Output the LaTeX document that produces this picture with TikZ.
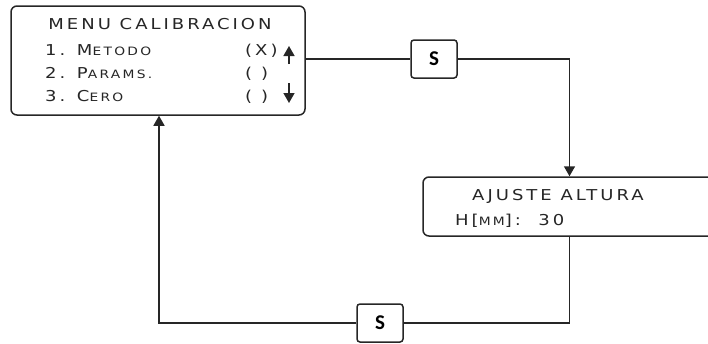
\documentclass[tikz,border=0pt]{standalone}
\usepackage{fontspec}
\usetikzlibrary{arrows.meta}
\newfontfamily\lcd[FakeStretch=1.2,LetterSpace=20]{DejaVu Sans}
\newfontfamily\keyfont{Carlito}
\newcommand\lcdbig{\fontsize{15}{15}\selectfont}
\newcommand\lcdsmall{\fontsize{11.5}{11.5}\selectfont}
\begin{document}
\begin{tikzpicture}[x=1pt,y=-1pt,
  screen/.style={draw=black!85, rounded corners=6pt, line width=1.5pt, inner sep=0pt},
  keybox/.style={draw=black!85, rounded corners=3pt, line width=1.5pt, minimum width=46pt, minimum height=38pt, inner sep=0pt, font=\keyfont\bfseries\fontsize{21}{21}\selectfont},
  conn/.style={line width=1.5pt, draw=black!85},
  tipa/.style={-{Triangle[width=11pt,length=10pt]}},
  txt/.style={anchor=base west, inner sep=0pt, font=\lcd\lcdbig, text=black!85}]
\useasboundingbox (0,0) rectangle (708,343);
\node[screen, minimum width=294pt, minimum height=109pt] (menu) at (158,60.5) {};
\node[screen, minimum width=293pt, minimum height=59pt] (ajuste) at (569.5,206.5) {};
\node[keybox] (s1) at (434,59) {S};
\node[keybox] (s2) at (380,323) {S};
\coordinate (c3) at (159,323);
% connectors
\draw[conn] (menu.east |- s1) -- (s1);
\draw[conn,tipa] (s1) -- (s1 -| ajuste) -- (ajuste.north);
\draw[conn] (ajuste.south) -- (ajuste |- s2) -- (s2);
\draw[conn,tipa] (s2) -- (c3) -- (c3 |- menu.south);
% menu text
\node[txt, anchor=base] (title) at (160,29) {MENU CALIBRACION};
\node[txt] (r1) at (45,55) {1. M{\lcdsmall ETODO}};
\node[txt] (r2) at (45,78) {2. P{\lcdsmall ARAMS.}};
\node[txt] (r3) at (45,101) {3. C{\lcdsmall ERO}};
\node[txt] (o1) at (245,55) {(X)};
\node[txt] (o2) at (245,78) {(\hspace{9pt})};
\node[txt] (o3) at (245,101) {(\hspace{9pt})};
\draw[conn,tipa] (289,64) -- (289,46);
\draw[conn,tipa] (289,83) -- (289,103);
% ajuste text
\node[txt] (a1) at (472,200) {AJUSTE ALTURA};
\node[txt] (a2) at (455,225) {H[{\lcdsmall MM}]: \ 30};
\end{tikzpicture}
\end{document}
